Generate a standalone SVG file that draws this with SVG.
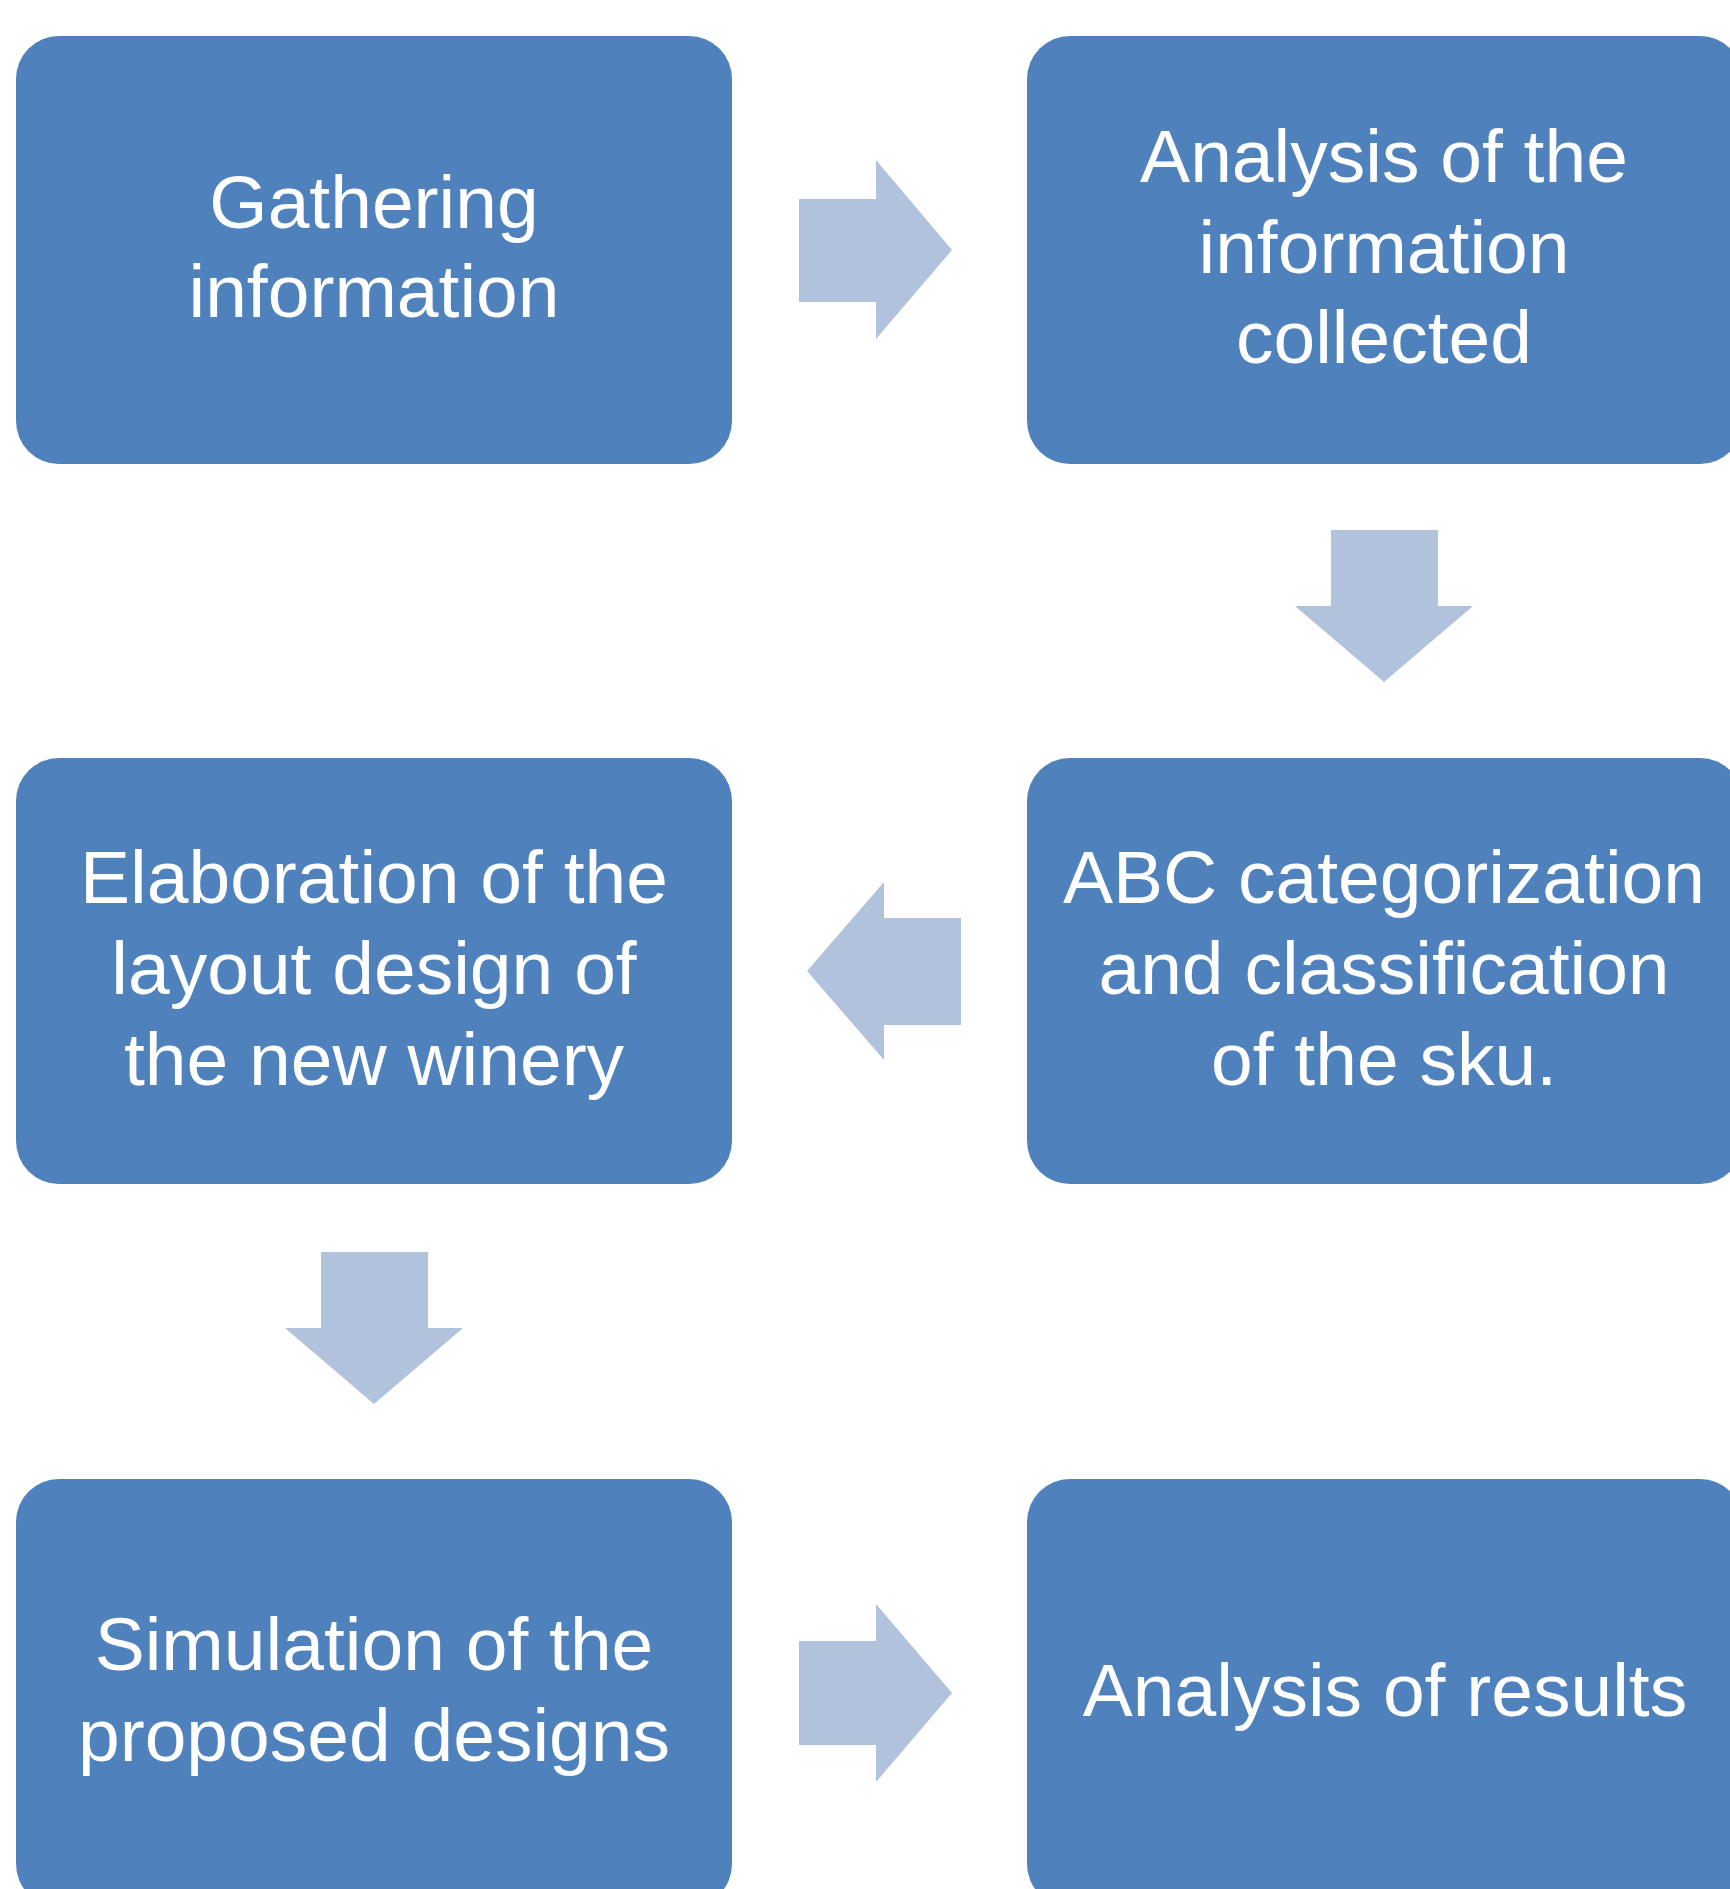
<svg xmlns="http://www.w3.org/2000/svg" width="1730" height="1889" viewBox="0 0 1730 1889">
<style>
.box{fill:#4F81BD}
.arr{fill:#B1C2DC}
.t{font-family:"Liberation Sans",Arial,sans-serif;font-size:75px;fill:#FFFFFF;text-anchor:middle}
</style>
<rect width="1730" height="1889" fill="#FFFFFF"/>
<g id="connectors">
<polygon class="arr" points="799,199 876,199 876,160 952,250 876,339 876,302 799,302"/>
<polygon class="arr" points="1331,530 1438,530 1438,606 1473,606 1384,682 1295,606 1331,606"/>
<polygon class="arr" points="961,918 884,918 884,882 807,971 884,1060 884,1025 961,1025"/>
<polygon class="arr" points="321,1252 428,1252 428,1328 463,1328 374,1404 285,1328 321,1328"/>
<polygon class="arr" points="799,1641 876,1641 876,1604 952,1693 876,1782 876,1745 799,1745"/>
</g>
<g id="n1">
<rect class="box" x="16" y="36" width="716" height="428" rx="43" ry="43"/>
<text class="t" x="374" y="228">Gathering</text>
<text class="t" x="374" y="317">information</text>
</g>
<g id="n2">
<rect class="box" x="1027" y="36" width="716" height="428" rx="43" ry="43"/>
<text class="t" x="1384" y="182">Analysis of the</text>
<text class="t" x="1384" y="273">information</text>
<text class="t" x="1384" y="363">collected</text>
</g>
<g id="n3">
<rect class="box" x="1027" y="758" width="716" height="426" rx="43" ry="43"/>
<text class="t" x="1384" y="903">ABC categorization</text>
<text class="t" x="1384" y="994">and classification</text>
<text class="t" x="1384" y="1085">of the sku.</text>
</g>
<g id="n4">
<rect class="box" x="16" y="758" width="716" height="426" rx="43" ry="43"/>
<text class="t" x="374" y="903">Elaboration of the</text>
<text class="t" x="374" y="994">layout design of</text>
<text class="t" x="374" y="1085">the new winery</text>
</g>
<g id="n5">
<rect class="box" x="16" y="1479" width="716" height="428" rx="43" ry="43"/>
<text class="t" x="374" y="1670">Simulation of the</text>
<text class="t" x="374" y="1761">proposed designs</text>
</g>
<g id="n6">
<rect class="box" x="1027" y="1479" width="716" height="428" rx="43" ry="43"/>
<text class="t" x="1385" y="1716">Analysis of results</text>
</g>
</svg>
